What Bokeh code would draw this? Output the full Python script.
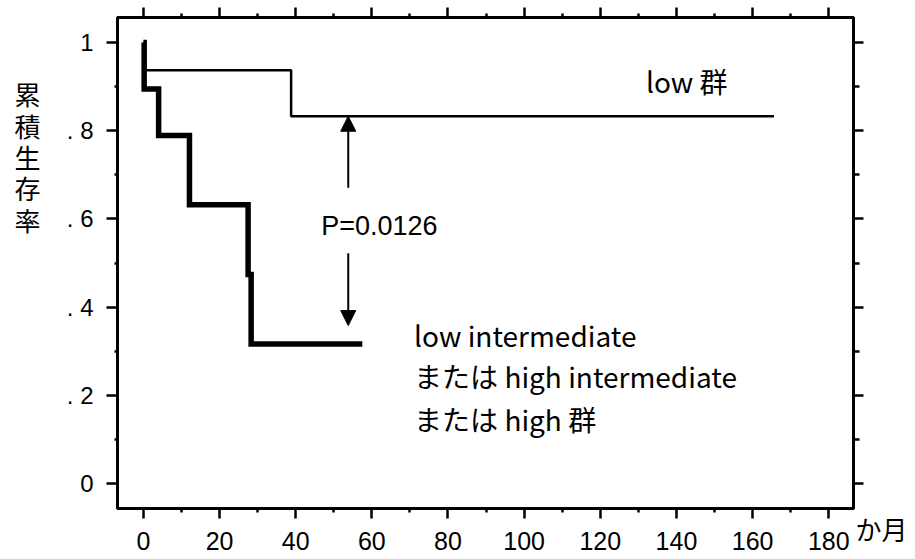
from bokeh.plotting import figure
from bokeh.models import (Range1d, FixedTicker, LinearAxis, Label, Arrow, NormalHead,
                          CustomJSTickFormatter)
from bokeh.embed import file_html
from bokeh.resources import INLINE

# ---- data ----
low_months = [0, 0.5, 38.8, 165.6]
low_surv = [1.0, 0.9375, 0.833, 0.833]

other_months = [0, 0.2, 4.0, 12.1, 27.5, 28.3, 57.5]
other_surv = [1.0, 0.895, 0.789, 0.632, 0.474, 0.316, 0.316]

x_ticks = [0, 20, 40, 60, 80, 100, 120, 140, 160, 180]
x_minor = [10, 30, 50, 70, 90, 110, 130, 150, 170]
y_ticks = [0, 0.2, 0.4, 0.6, 0.8, 1.0]
y_minor = [0.1, 0.3, 0.5, 0.7, 0.9]
y_tick_labels = ["0", ". 2", ". 4", ". 6", ". 8", "1"]

y_title = ["累", "積", "生", "存", "率"]
x_title = "か月"
p_text = "P=0.0126"
label_low = "low 群"
label_other = ["low intermediate", "または high intermediate", "または high 群"]

arrow_x = 53.8
arrow_up = (0.671, 0.833)
arrow_down = (0.522, 0.358)

SANS = "Liberation Sans"
JP = "Noto Sans CJK JP"

W, H = 915, 559
p = figure(width=W, height=H, output_backend="svg", toolbar_location=None,
           x_range=Range1d(-6.8, 186.5), y_range=Range1d(-0.057, 1.057),
           x_axis_location=None, y_axis_location=None,
           min_border_left=117, min_border_right=W - 853, min_border_top=17,
           min_border_bottom=H - 508)
p.grid.visible = False
p.outline_line_color = "black"
p.outline_line_width = 3
p.background_fill_color = "white"
p.border_fill_color = "white"

xt = FixedTicker(ticks=x_ticks, minor_ticks=x_minor)
yt = FixedTicker(ticks=y_ticks, minor_ticks=y_minor)
blank = CustomJSTickFormatter(code="return ''")


def style(ax):
    ax.axis_line_width = 3
    ax.axis_line_color = "black"
    ax.major_tick_line_width = 2.5
    ax.minor_tick_line_width = 2.5
    ax.major_tick_out = 10
    ax.major_tick_in = 0
    ax.minor_tick_out = 4
    ax.minor_tick_in = 0


bx = LinearAxis(ticker=xt)
style(bx)
bx.major_label_text_font = SANS
bx.major_label_text_font_size = "25px"
bx.major_label_text_color = "black"
bx.major_label_standoff = 13
p.add_layout(bx, "below")

tx = LinearAxis(ticker=xt, formatter=blank)
style(tx)
tx.major_label_standoff = 0
p.add_layout(tx, "above")

ly = LinearAxis(ticker=yt)
style(ly)
ly.major_tick_out = 11
ly.minor_tick_out = 3
ly.major_label_text_font = SANS
ly.major_label_text_font_size = "24px"
ly.major_label_text_color = "black"
ly.major_label_standoff = 13
ly.major_label_overrides = {t: s for t, s in zip(y_ticks, y_tick_labels)}
p.add_layout(ly, "left")

ry = LinearAxis(ticker=yt, formatter=blank)
style(ry)
ry.major_tick_out = 10
ry.minor_tick_out = 6
ry.major_label_standoff = 0
p.add_layout(ry, "right")

# survival curves
p.step(low_months, low_surv, mode="after", line_color="black", line_width=2.5)
p.step(other_months, other_surv, mode="after", line_color="black", line_width=5.5,
       line_join="miter")

# arrows
for (y0, y1) in (arrow_up, arrow_down):
    p.add_layout(Arrow(end=NormalHead(size=15, fill_color="black", line_color="black", line_width=1),
                       x_start=arrow_x, y_start=y0, x_end=arrow_x, y_end=y1,
                       line_color="black", line_width=2))

# texts inside the plot
p.add_layout(Label(x=46.7, y=0.585, text=p_text, text_font=SANS, text_font_size="27px",
                   text_color="black", text_baseline="alphabetic"))
p.add_layout(Label(x=132.0, y=0.914, text=label_low, text_font=JP, text_font_size="28px",
                   text_color="black", text_baseline="alphabetic"))
for t, yy in zip(label_other, [0.3356, 0.2426, 0.147]):
    p.add_layout(Label(x=71.1, y=yy, text=t, text_font=JP, text_font_size="28px",
                       text_color="black", text_baseline="alphabetic"))

# stacked vertical y title in the left-hand side panel (canvas units)
p.add_layout(Label(x=27, y=156, x_units="canvas", y_units="canvas", text="\n".join(y_title),
                   text_font=JP, text_font_size="26px", text_color="black",
                   text_align="center", text_baseline="middle", text_line_height=0.85), "left")

# x title in the right-hand side panel (canvas units)
p.add_layout(Label(x=855, y=528, x_units="canvas", y_units="canvas", text=x_title,
                   text_font=JP, text_font_size="26px", text_color="black",
                   text_baseline="middle"), "right")

open("out.html", "w").write(file_html(p, INLINE))
